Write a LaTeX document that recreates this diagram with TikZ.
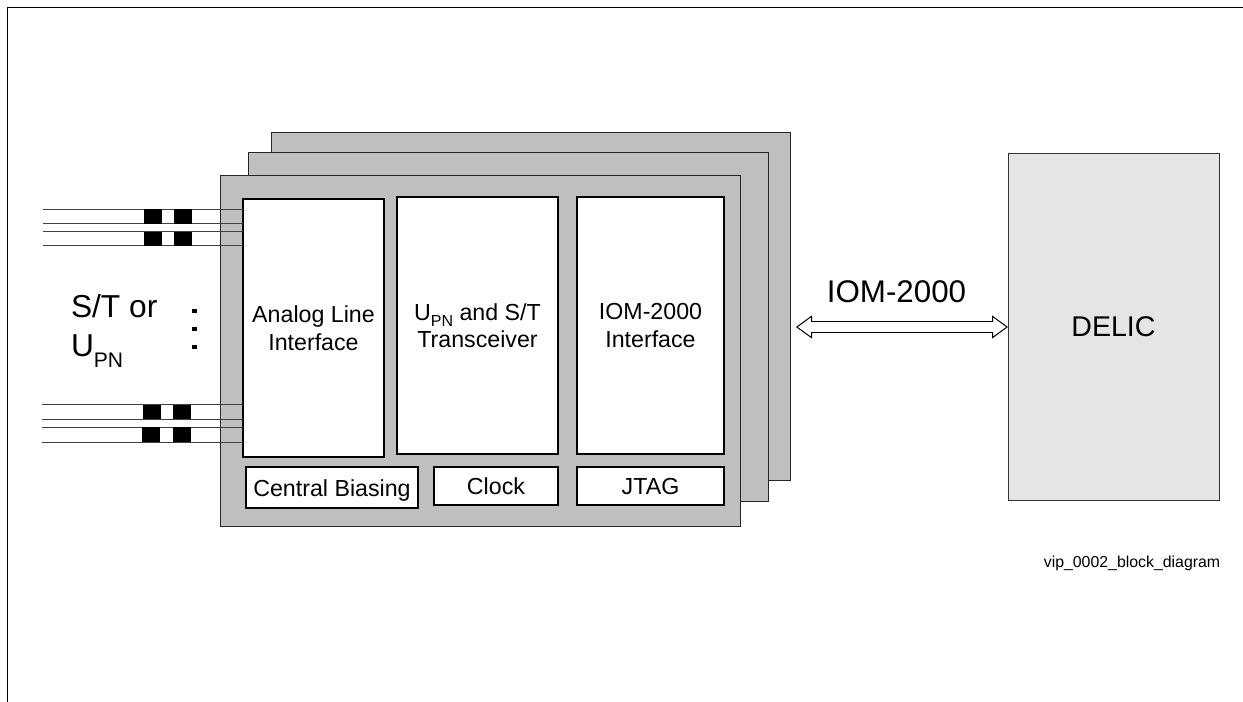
\documentclass[tikz,border=0pt]{standalone}
\usepackage{fontspec}
\setmainfont{Liberation Sans}
\usetikzlibrary{arrows.meta,positioning,calc}
\newcommand{\px}{0.75pt}
\newcommand{\pnsub}[2]{\raisebox{-#2pt}{\fontsize{#1pt}{#1pt}\selectfont PN}}
\tikzset{
    size/.style 2 args={minimum width=#1*\px, minimum height=#2*\px},
    card/.style={draw=black!85, line width=1*\px, fill=black!25, inner sep=0, outer sep=0},
    block/.style={draw=black, line width=2.8*\px, fill=white, inner sep=0, outer sep=0, align=center,
        font=\fontsize{17.4pt}{20.6pt}\selectfont},
    rowblock/.style={block, text height=13pt, text depth=0pt},
    wire/.style={draw=black!75, line width=1*\px},
    choke/.style={fill=black, inner sep=0, outer sep=0, minimum width=18*\px, minimum height=14.5*\px},
    dotmark/.style={fill=black, inner sep=0, outer sep=0, minimum size=4.5*\px},
    bigtext/.style={inner sep=0, outer sep=0, align=left, font=\fontsize{23.8pt}{29.3pt}\selectfont}
}
\begin{document}
\begin{tikzpicture}[x=\px, y=-\px]
    \useasboundingbox (0,0) rectangle (1243,702);

    % Frame lines at the page edge
    \coordinate (FrameTL) at (7.3,7.3);
    \coordinate (FrameTR) at (1243,7.3);
    \coordinate (FrameBL) at (7.3,702);
    \draw [line width=1.4*\px, line cap=rect] (FrameTR) -- (FrameTL) -- (FrameBL);

    % Stack of cards
    \node [card, size={519}{347}] (CardBack) at (530.5,306.5) {};
    \node [card, size={520}{348}] (CardMid) at (508,327) {};
    \node [card, size={520}{350}] (CardFront) at (480,351) {};

    % Function blocks
    \node [block, size={141}{258}] (Analog) at (313.5,328) {Analog Line\\Interface};
    \node [block, size={161}{257}] (Transceiver) at (477.5,325.5) {U\pnsub{12}{5} and S/T\\Transceiver};
    \node [block, size={147}{257}] (Iom) at (650.5,325.5) {IOM-2000\\Interface};
    \node [rowblock, size={172}{41}] (Biasing) at (332,487.5) {Central Biasing};
    \node [rowblock, size={124}{38}] (Clock) at (496,486) {Clock};
    \node [rowblock, size={147}{38}] (Jtag) at (650.5,486) {JTAG};

    % Line pairs into the analog block
    \foreach \y [count=\i] in {209.5,223.5,232,246} {
        \coordinate (InTop\i) at (43,\y);
        \draw [wire] (InTop\i) -- (Analog.west |- InTop\i);
    }
    \foreach \y [count=\i] in {405,419.5,427.5,442} {
        \coordinate (InLow\i) at (42,\y);
        \draw [wire] (InLow\i) -- (Analog.west |- InLow\i);
    }

    % Black blocks on the lines
    \node [choke] (ChokeA) at (153,216.5) {};
    \node [choke] (ChokeB) at (183,216.5) {};
    \node [choke] (ChokeC) at (153,239) {};
    \node [choke] (ChokeD) at (183,239) {};
    \node [choke] (ChokeE) at (152,412) {};
    \node [choke] (ChokeF) at (181.5,412) {};
    \node [choke] (ChokeG) at (151,434.5) {};
    \node [choke] (ChokeH) at (181.5,434.5) {};

    \foreach \y [count=\i] in {311,329,347} {
        \node [dotmark] (Dot\i) at (194.5,\y) {};
    }

    \node [bigtext, anchor=base west] (LineType) at (71,357) {S/T or\\U\pnsub{15.8}{8}};

    % Bus to DELIC
    \node [draw=black!80, line width=1*\px, fill=black!10, size={211}{346},
        inner sep=0, outer sep=0, font=\fontsize{21.4pt}{26pt}\selectfont] (Delic) at (1113.5,327) {DELIC};
    \coordinate (BusLeft) at (796,327);
    \coordinate (BusRight) at (Delic.west |- BusLeft);
    \draw [line width=1*\px, double=white, double distance=10.6*\px,
        {Triangle[open, fill=white, length=16*\px, width=23*\px]}-{Triangle[open, fill=white, length=16*\px, width=23*\px]}]
        (BusLeft) -- (BusRight);
    \draw [white, line width=10*\px, shorten <=14*\px, shorten >=14*\px] (BusLeft) -- (BusRight);

    \node [inner sep=0, font=\fontsize{23.5pt}{28pt}\selectfont, anchor=base] (BusName) at (896.5,302.5) {IOM-2000};
    \node [inner sep=0, font=\fontsize{11.9pt}{14pt}\selectfont, anchor=base east] (FileName) at (1220.5,567) {vip\_0002\_block\_diagram};
\end{tikzpicture}
\end{document}
